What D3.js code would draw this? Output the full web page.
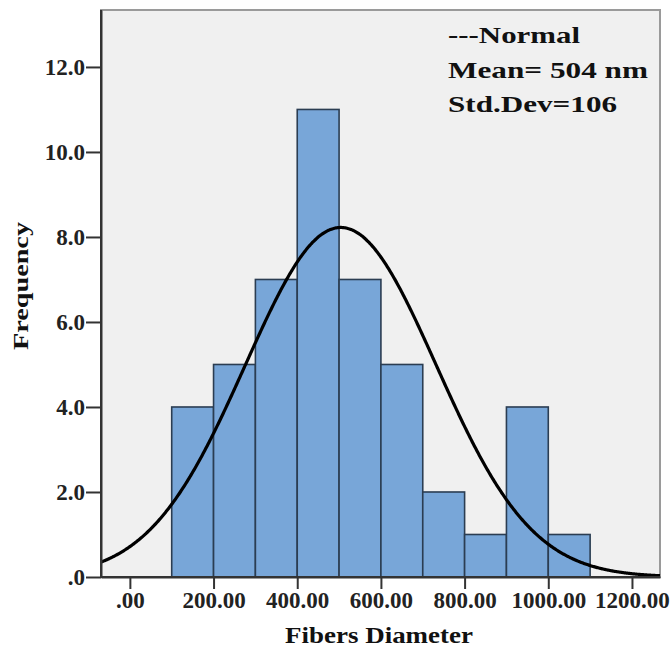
<!DOCTYPE html>
<html><head><meta charset="utf-8">
<script src="https://cdn.jsdelivr.net/npm/d3@7"></script>
<style>body{margin:0;background:#fff;} text{font-family:"Liberation Serif","Times New Roman",serif;}</style>
</head><body>
<svg id="chart" width="670" height="649"></svg>
<script>
// ---- data ----
const binStarts = [100, 200, 300, 400, 500, 600, 700, 800, 900, 1000];
const binWidth = 100;
const counts = [4, 5, 7, 11, 7, 5, 2, 1, 4, 1];
const xTicks = [0, 200, 400, 600, 800, 1000, 1200];
const xTickLabels = [".00", "200.00", "400.00", "600.00", "800.00", "1000.00", "1200.00"];
const yTicks = [0, 2, 4, 6, 8, 10, 12];
const yTickLabels = [".0", "2.0", "4.0", "6.0", "8.0", "10.0", "12.0"];
const curveMean = 504;
const curveSD = 228;
const legendLines = ["---Normal", "Mean= 504 nm", "Std.Dev=106"];
const xTitle = "Fibers Diameter";
const yTitle = "Frequency";

// ---- layout ----
const L = 101, R = 660, T = 10, B = 577;
const svg = d3.select("#chart");
const x = d3.scaleLinear().domain([-69, 1267]).range([L, R]);
const y = d3.scaleLinear().domain([0, 13.34]).range([B, T]);

// plot background
svg.append("rect").attr("x", L).attr("y", T).attr("width", R - L).attr("height", B - T)
  .attr("fill", "#f0f0f0").attr("stroke", "#9a9a9a").attr("stroke-width", 2);

// bars
svg.append("g").selectAll("rect").data(counts).join("rect")
  .attr("x", (d, i) => x(binStarts[i]))
  .attr("width", (d, i) => x(binStarts[i] + binWidth) - x(binStarts[i]))
  .attr("y", d => y(d))
  .attr("height", d => y(0) - y(d))
  .attr("fill", "#78a6d8")
  .attr("stroke", "#2b3d52").attr("stroke-width", 1.6);

// normal curve
const N = d3.sum(counts);
const xs = d3.range(-69, 1267.5, 2);
const dens = v => N * binWidth / (curveSD * Math.sqrt(2 * Math.PI)) * Math.exp(-0.5 * Math.pow((v - curveMean) / curveSD, 2));
svg.append("path").datum(xs)
  .attr("d", d3.line().x(v => x(v)).y(v => y(dens(v))).curve(d3.curveBasis))
  .attr("fill", "none").attr("stroke", "#000").attr("stroke-width", 3.2);

// axes
const xAxis = svg.append("g").attr("transform", `translate(0,${B})`)
  .call(d3.axisBottom(x).tickValues(xTicks).tickFormat((d, i) => xTickLabels[i]).tickSize(12).tickPadding(3).tickSizeOuter(0));
const yAxis = svg.append("g").attr("transform", `translate(${L},0)`)
  .call(d3.axisLeft(y).tickValues(yTicks).tickFormat((d, i) => yTickLabels[i]).tickSize(15).tickPadding(1).tickSizeOuter(0));
[xAxis, yAxis].forEach(a => {
  a.select(".domain").attr("stroke", "#333").attr("stroke-width", 2);
  a.selectAll(".tick line").attr("stroke", "#333").attr("stroke-width", 2);
  a.selectAll(".tick text").attr("fill", "#222").attr("font-size", 23).attr("font-weight", "bold")
    .attr("font-family", "Liberation Serif, Times New Roman, serif");
});
// extend axis lines to corners
svg.append("line").attr("x1", L).attr("x2", L).attr("y1", T).attr("y2", B + 1).attr("stroke", "#333").attr("stroke-width", 2);
svg.append("line").attr("x1", L - 1).attr("x2", R).attr("y1", B).attr("y2", B).attr("stroke", "#333").attr("stroke-width", 2);

// axis titles
svg.append("text").attr("x", 379).attr("y", 643).attr("text-anchor", "middle")
  .attr("font-size", 23).attr("font-weight", "bold").attr("fill", "#111")
  .attr("textLength", 188).attr("lengthAdjust", "spacingAndGlyphs").text(xTitle);
svg.append("text").attr("transform", "translate(28,286) rotate(-90)").attr("text-anchor", "middle")
  .attr("font-size", 22).attr("font-weight", "bold").attr("fill", "#111")
  .attr("textLength", 128).attr("lengthAdjust", "spacingAndGlyphs").text(yTitle);

// legend text
const legW = [132, 200, 169];
const legY = [43, 78, 112];
svg.append("g").selectAll("text").data(legendLines).join("text")
  .attr("x", 448).attr("y", (d, i) => legY[i])
  .attr("font-size", 23).attr("font-weight", "bold").attr("fill", "#111")
  .attr("textLength", (d, i) => legW[i]).attr("lengthAdjust", "spacingAndGlyphs")
  .text(d => d);
</script>
</body></html>
